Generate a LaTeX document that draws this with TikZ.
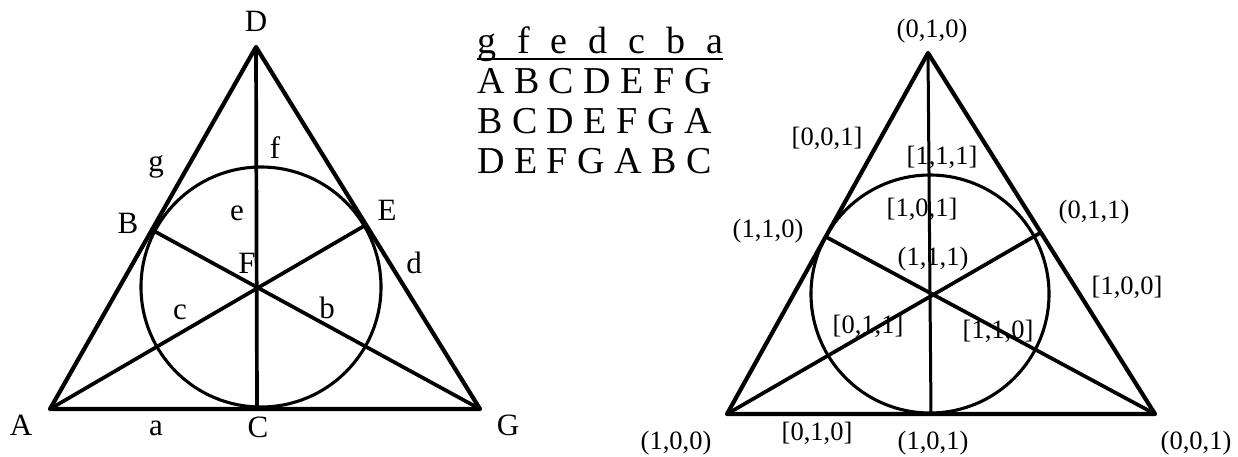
\documentclass[tikz,border=0pt]{standalone}
\usepackage{fontspec}
\setmainfont{Liberation Serif}
\usetikzlibrary{calc}
\begin{document}
\begin{tikzpicture}[x=1pt,y=-1pt,
  side/.style={line width=4.2pt, line join=round, line cap=round},
  inner/.style={line width=3.7pt, line cap=round},
  vert/.style={line width=3pt},
  circ/.style={line width=3.1pt},
  lbl/.style={font=\fontsize{31}{36}\selectfont, inner sep=0pt},
  crd/.style={font=\fontsize{26.5}{30}\selectfont, inner sep=0pt},
  tabrow/.style={font=\fontsize{38}{44}\selectfont, inner sep=0pt, anchor=base west}]
\useasboundingbox (0,0) rectangle (1238,456);
% ---- left triangle ----
\coordinate (A) at (50,409);
\coordinate (G) at (480,409);
\coordinate (D) at (256,47);
\coordinate (C) at (257,409);
\coordinate (B) at (154,231);
\coordinate (E) at (364,226);
\coordinate (F) at (intersection of B--G and E--A);
\coordinate (O1) at (261,287);
\draw[side] (A) -- (G) -- (D) -- cycle;
\draw[inner] (D) -- (C);
\draw[inner] (B) -- (G);
\draw[inner] (E) -- (A);
\draw[circ] (O1) circle[radius=120pt];
\node[lbl] (lD) at (256,21) {D};
\node[lbl] (lA) at (21,425) {A};
\node[lbl] (lC) at (258,427) {C};
\node[lbl] (lG) at (508,425) {G};
\node[lbl] (lB) at (128,223) {B};
\node[lbl] (lE) at (387,210) {E};
\node[lbl] (lF) at (247,263) {F};
\node[lbl] (la) at (156,428) {a};
\node[lbl] (lb) at (327,308) {b};
\node[lbl] (lc) at (180,312) {c};
\node[lbl] (ld) at (414,263) {d};
\node[lbl] (le) at (237,213) {e};
\node[lbl] (lf) at (275,148) {f};
\node[lbl] (lg) at (156,167) {g};
% ---- table ----
\node[tabrow] (hdr) at (477,53) {g\kern21pt f\kern21pt e\kern21pt d\kern21pt c\kern21pt b\kern21pt a};
\coordinate (u1) at (477,59);
\coordinate (u2) at (723,59);
\draw[line width=2.2pt] (u1) -- (u2);
\node[tabrow] (r1) at (477,93) {A B C D E F G};
\node[tabrow] (r2) at (477,133) {B C D E F G A};
\node[tabrow] (r3) at (477,173) {D E F G A B C};
% ---- right triangle ----
\coordinate (L) at (727,414);
\coordinate (R) at (1155,414);
\coordinate (T) at (928,53);
\coordinate (M) at (931,414);
\coordinate (P) at (828,238);
\coordinate (Q) at (1040,233);
\coordinate (O2) at (930,294);
\draw[side] (L) -- (R) -- (T) -- cycle;
\draw[vert] (T) -- (M);
\draw[inner] (P) -- (R);
\draw[inner] (Q) -- (L);
\draw[circ] (O2) circle[radius=119pt];
\node[crd] (c010) at (932,31) {(0,1,0)};
\node[crd] (c110) at (768,231) {(1,1,0)};
\node[crd] (c011) at (1094,212) {(0,1,1)};
\node[crd] (c111) at (933,259) {(1,1,1)};
\node[crd] (c100) at (676,443) {(1,0,0)};
\node[crd] (c101) at (933,443) {(1,0,1)};
\node[crd] (c001) at (1196,443) {(0,0,1)};
\node[crd] (s001) at (827,138) {[0,0,1]};
\node[crd] (s111) at (942,157) {[1,1,1]};
\node[crd] (s101) at (922,209) {[1,0,1]};
\node[crd] (s100) at (1127,287) {[1,0,0]};
\node[crd] (s011) at (868,326) {[0,1,1]};
\node[crd] (s110) at (998,331) {[1,1,0]};
\node[crd] (s010) at (817,433) {[0,1,0]};
\end{tikzpicture}
\end{document}
